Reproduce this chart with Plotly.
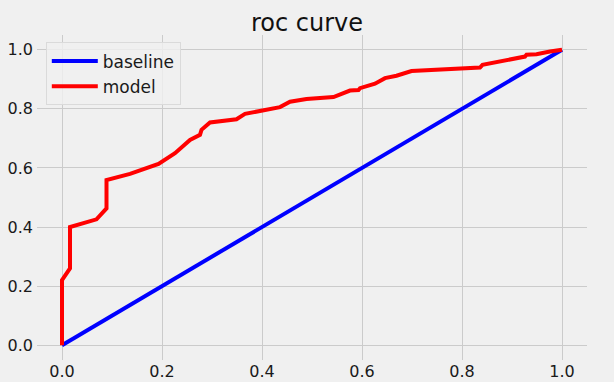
import plotly.graph_objects as go

# baseline (chance) line
baseline_fpr = [0.0, 1.0]
baseline_tpr = [0.0, 1.0]

# model roc curve
model_fpr = [0.0, 0.0, 0.016, 0.016, 0.069, 0.089, 0.089, 0.136, 0.193, 0.226, 0.256,
             0.276, 0.279, 0.296, 0.349, 0.366, 0.436, 0.456, 0.489, 0.543, 0.576,
             0.593, 0.596, 0.626, 0.646, 0.669, 0.699, 0.836, 0.841, 0.926, 0.929,
             0.949, 0.976, 0.996, 1.0]
model_tpr = [0.0, 0.22, 0.26, 0.40, 0.426, 0.463, 0.559, 0.58, 0.614, 0.65, 0.695,
             0.712, 0.729, 0.754, 0.765, 0.783, 0.806, 0.824, 0.833, 0.84, 0.862,
             0.864, 0.87, 0.885, 0.904, 0.912, 0.928, 0.94, 0.949, 0.977, 0.983,
             0.985, 0.994, 0.997, 1.0]

ticks = [0.0, 0.2, 0.4, 0.6, 0.8, 1.0]
tick_text = ['0.0', '0.2', '0.4', '0.6', '0.8', '1.0']

bg = '#f0f0f0'
grid = '#cbcbcb'
font = 'DejaVu Sans'

fig = go.Figure()
fig.add_trace(go.Scatter(x=baseline_fpr, y=baseline_tpr, mode='lines', name='baseline',
                         line=dict(color='#0000ff', width=4)))
fig.add_trace(go.Scatter(x=model_fpr, y=model_tpr, mode='lines', name='model',
                         line=dict(color='#ff0000', width=4)))

fig.update_layout(
    width=614, height=382,
    margin=dict(l=37, r=27, t=35, b=22, autoexpand=False),
    paper_bgcolor=bg, plot_bgcolor=bg,
    font=dict(family=font, size=16, color='#1a1a1a'),
    title=dict(text='roc curve', x=0.5, xanchor='center', y=0.94, yanchor='middle',
               automargin=False,
               font=dict(family=font, size=24, color='#111111')),
    legend=dict(x=0.016, y=0.977, xanchor='left', yanchor='top',
                bgcolor='rgba(240,240,240,0.8)', bordercolor='#dadada', borderwidth=1,
                font=dict(family=font, size=17, color='#1a1a1a'),
                tracegroupgap=0, itemwidth=46),
    showlegend=True,
)
fig.update_xaxes(range=[-0.05, 1.05], tickvals=ticks, ticktext=tick_text,
                 showgrid=True, gridcolor=grid, gridwidth=1, zeroline=False,
                 showline=False, ticks='', ticklabelstandoff=0, automargin=False)
fig.update_yaxes(range=[-0.05, 1.05], tickvals=ticks, ticktext=tick_text,
                 showgrid=True, gridcolor=grid, gridwidth=1, zeroline=False,
                 showline=False, ticks='', ticklabelstandoff=3, automargin=False)

# axis labels, mostly cut off by the page edge like in the original
fig.add_annotation(text='fpr', xref='paper', yref='paper', x=0.49, y=-0.1,
                   yanchor='top', showarrow=False, yshift=-4,
                   font=dict(family=font, size=16, color='#1a1a1a'))
fig.add_annotation(text='tpr', xref='paper', yref='paper', x=-0.085, y=0.45,
                   xanchor='right', textangle=-90, showarrow=False,
                   font=dict(family=font, size=16, color='#1a1a1a'))

# drop the default page margin so the figure fills the window
fig.write_html('out.html', config={'displayModeBar': False},
               post_script="document.body.style.margin='0';document.body.style.background='#f0f0f0';")
